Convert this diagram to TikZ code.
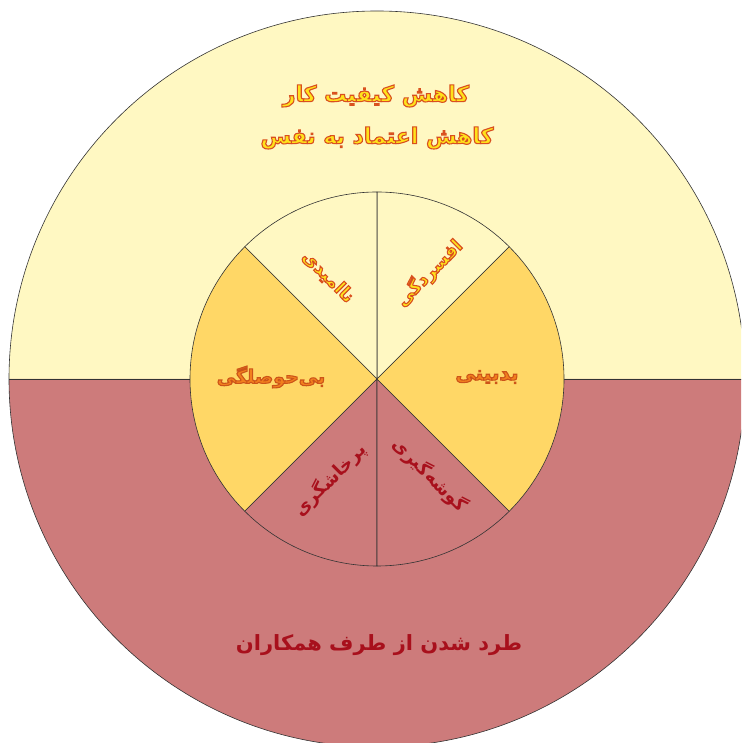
\documentclass[tikz,border=0pt]{standalone}
\usepackage{fontspec}
\usetikzlibrary{calc}
\TeXXeTstate=1
\newfontfamily\arabicfont[Script=Arabic]{DejaVu Sans}
\definecolor{paleyellow}{HTML}{FFF8C2}
\definecolor{rosered}{HTML}{CD7B7B}
\definecolor{goldfill}{HTML}{FFD766}
\definecolor{textyellow}{HTML}{FFE21A}
\definecolor{textorange}{HTML}{F2801E}
\definecolor{darkred}{HTML}{A8101C}
% stroke colours for outlined text, as PDF operators
\newcommand{\redstroke}{0.85 0.31 0.12 RG}
\newcommand{\orangestroke}{0.80 0.33 0.10 RG}
\tikzset{
  sector/.style={draw=black!80, line width=0.6pt},
  ptxt/.style={inner sep=0pt},
}
% outlined text (fill + stroke rendering): stroke operator, fill colour, text
\newcommand{\outl}[3]{{\color{#2}\special{pdf:literal #1 2 Tr 1.1 w}#3\special{pdf:literal 0 Tr}}}
\newcommand{\fsz}[1]{\arabicfont\bfseries\fontsize{#1}{#1}\selectfont}
\begin{document}
\begin{tikzpicture}[x=1pt,y=1pt]
\useasboundingbox (0,0) rectangle (741,743);
\clip (0,0) rectangle (741,743);
\coordinate (c) at (377,364);
% outer half rings
\fill[paleyellow] (c) ++(0:368pt) arc[start angle=0, end angle=180, radius=368pt] -- cycle;
\fill[rosered] (c) ++(180:368pt) arc[start angle=180, end angle=360, radius=368pt] -- cycle;
\draw[sector] (c) circle[radius=368pt];
\coordinate (lft) at ($(c)+(180:368pt)$);
\coordinate (rgt) at ($(c)+(0:368pt)$);
\draw[sector] (lft) -- (rgt);
% inner sectors
\filldraw[sector, fill=paleyellow] (c) -- ++(45:187pt) arc[start angle=45, end angle=90, radius=187pt] -- cycle;
\filldraw[sector, fill=paleyellow] (c) -- ++(90:187pt) arc[start angle=90, end angle=135, radius=187pt] -- cycle;
\filldraw[sector, fill=goldfill] (c) -- ++(135:187pt) arc[start angle=135, end angle=225, radius=187pt] -- cycle;
\filldraw[sector, fill=rosered] (c) -- ++(225:187pt) arc[start angle=225, end angle=270, radius=187pt] -- cycle;
\filldraw[sector, fill=rosered] (c) -- ++(270:187pt) arc[start angle=270, end angle=315, radius=187pt] -- cycle;
\filldraw[sector, fill=goldfill] (c) -- ++(-45:187pt) arc[start angle=-45, end angle=45, radius=187pt] -- cycle;
% texts
\node[ptxt, font=\fsz{22}] (t1) at (376,647) {\outl{\redstroke}{textyellow}{\beginR کاهش کیفیت کار\endR}};
\node[ptxt, font=\fsz{22}] (t2) at (377,605) {\outl{\redstroke}{textyellow}{\beginR کاهش اعتماد به نفس\endR}};
\node[ptxt, rotate=-45, font=\fsz{18}] (s1) at (328,466) {\outl{\redstroke}{textyellow}{\beginR ناامیدی\endR}};
\node[ptxt, rotate=45, font=\fsz{18}] (s2) at (429,470) {\outl{\redstroke}{textyellow}{\beginR افسردگی\endR}};
\node[ptxt, font=\fsz{19}] (s3) at (271,366) {\outl{\orangestroke}{textorange}{\beginR بی‌حوصلگی\endR}};
\node[ptxt, font=\fsz{20}] (s4) at (487,366) {\outl{\orangestroke}{textorange}{\beginR بدبینی\endR}};
\node[ptxt, text=darkred, rotate=45, font=\fsz{18}] (s5) at (330,263) {\beginR پرخاشگری\endR};
\node[ptxt, text=darkred, rotate=-45, font=\fsz{18}] (s6) at (430,268) {\beginR گوشه‌گیری\endR};
\node[ptxt, text=darkred, font=\fsz{21}] (b1) at (379,98) {\beginR طرد شدن از طرف همکاران\endR};
\end{tikzpicture}
\end{document}
